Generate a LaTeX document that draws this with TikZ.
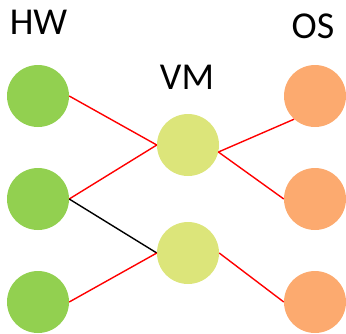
\documentclass[tikz,border=0pt]{standalone}
\usepackage{fontspec}
\setmainfont{Carlito}
\begin{document}
\begin{tikzpicture}[x=1pt,y=-1pt,
  hw/.style={circle,fill=hwgreen,minimum size=62pt,inner sep=0pt},
  vm/.style={circle,fill=vmyellow,minimum size=62pt,inner sep=0pt},
  os/.style={circle,fill=osorange,minimum size=62pt,inner sep=0pt},
  lbl/.style={anchor=base,inner sep=0pt,font=\fontsize{38}{40}\selectfont},
  link/.style={draw=red,line width=1.4pt},
  blink/.style={draw=black,line width=1.4pt}]
\definecolor{hwgreen}{HTML}{92D050}
\definecolor{vmyellow}{HTML}{DCE57A}
\definecolor{osorange}{HTML}{FCAA6F}
\useasboundingbox (0,0) rectangle (346,333);
\node[lbl] (lhw) at (38.5,34) {HW};
\node[lbl] (lvm) at (187,89) {VM};
\node[lbl] (los) at (313,38) {OS};
\node[hw] (h1) at (38,96) {};
\node[hw] (h2) at (38,199) {};
\node[hw] (h3) at (38,302) {};
\node[vm] (v1) at (188,145) {};
\node[vm] (v2) at (188,253) {};
\node[os] (o1) at (315,96) {};
\node[os] (o2) at (315,199) {};
\node[os] (o3) at (315,302) {};
\draw[link] (h1.east) -- (v1.west);
\draw[link] (h2.east) -- (v1.west);
\draw[blink] (h2.east) -- (v2.west);
\draw[link] (h3.east) -- (v2.west);
\draw[link] (v1.-13) -- (o1.228);
\draw[link] (v1.-13) -- (o2.west);
\draw[link] (v2.east) -- (o3.west);
\end{tikzpicture}
\end{document}
